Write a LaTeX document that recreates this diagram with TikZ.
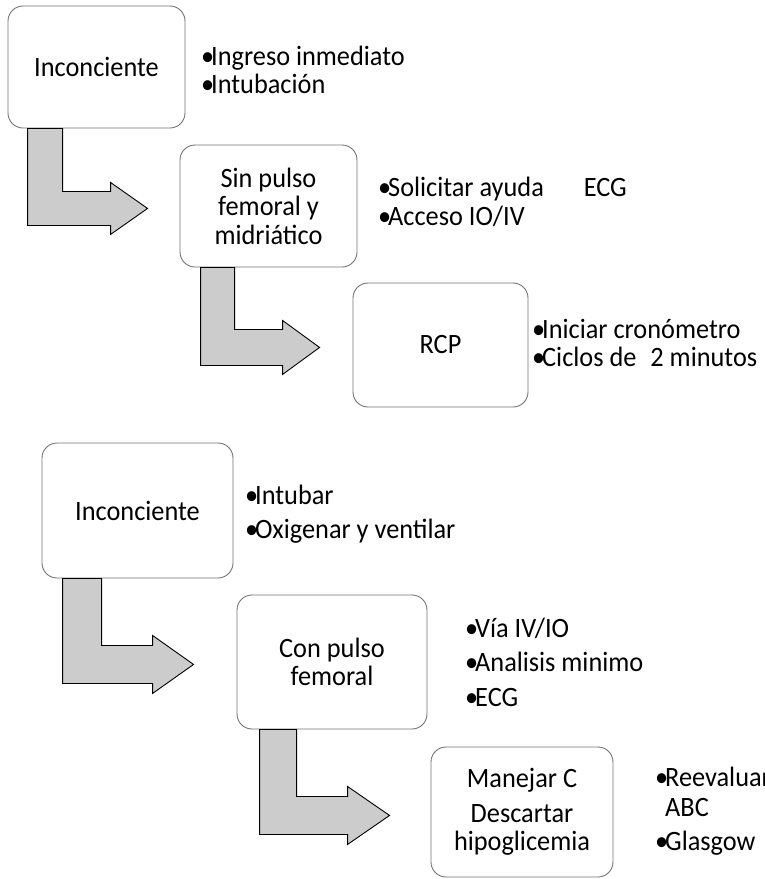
\documentclass[tikz,border=0pt]{standalone}
\usepackage{fontspec}
\setmainfont{Carlito}[FakeStretch=0.94]
\newcommand\dotitem{\makebox[10pt][l]{•}}
\begin{document}
\begin{tikzpicture}[x=1pt,y=-1pt,
  stagebox/.style={draw=black!55, line width=0.9pt, rounded corners=15pt,
    fill=white, align=center, inner sep=0pt,
    font=\fontsize{28}{28.5}\selectfont},
  notes/.style={anchor=west, align=left, inner sep=0pt,
    font=\fontsize{28}{28.5}\selectfont},
  bendarrow/.style={draw=black, line width=0.9pt, fill=black!20,
    line join=miter}]
\useasboundingbox (0,0) rectangle (765,879);

% ---- first sequence: without pulse ----
\node[stagebox, minimum width=177pt, minimum height=122pt] (b1) at (96.5,67) {Inconciente};
\node[stagebox, minimum width=177pt, minimum height=122pt] (b2) at (268.5,206) {Sin pulso\\femoral y\\midriático};
\node[stagebox, minimum width=175pt, minimum height=124pt] (b3) at (440.5,345) {RCP};

\node[notes] (n1) at (201,70) {\dotitem Ingreso inmediato\\\dotitem Intubación};
\node[notes] (n2) at (378,202) {\dotitem Solicitar ayuda\hspace{40pt}ECG\\\dotitem Acceso IO/IV};
\node[notes] (n3) at (532,343) {\dotitem Iniciar cronómetro\\\dotitem Ciclos de\hspace{14pt}2 minutos};

\draw[bendarrow] ([xshift=20pt]b1.south west) -- ++(35,0) -- ++(0,63)
  -- ++(48,0) -- ++(0,-9) -- ++(37,26) -- ++(-37,26) -- ++(0,-9)
  -- ++(-83,0) -- cycle;
\draw[bendarrow] ([xshift=21pt]b2.south west) -- ++(34,0) -- ++(0,62)
  -- ++(48,0) -- ++(0,-9) -- ++(37,27) -- ++(-37,27) -- ++(0,-9)
  -- ++(-82,0) -- cycle;

% ---- second sequence: with pulse ----
\node[stagebox, minimum width=191pt, minimum height=135pt] (b4) at (137.5,510.5) {Inconciente};
\node[stagebox, minimum width=190pt, minimum height=134pt] (b5) at (332,662) {Con pulso\\femoral};
\node[stagebox, minimum width=182pt, minimum height=130pt] (b6) at (522,812) {Manejar C\\[6pt]Descartar\\hipoglicemia};

\node[notes] (n4) at (245,514) {\dotitem Intubar\\[6pt]\dotitem Oxigenar y ventilar};
\node[notes] (n5) at (465,662) {\dotitem Vía IV/IO\\[6pt]\dotitem Analisis minimo\\[6pt]\dotitem ECG};
\node[notes, font=\fontsize{28}{30.5}\selectfont] (n6) at (655,811) {\dotitem Reevaluar\\\hspace*{10pt}ABC\\[3pt]\dotitem Glasgow};

\draw[bendarrow] ([xshift=21pt]b4.south west) -- ++(39,0) -- ++(0,67)
  -- ++(51,0) -- ++(0,-10) -- ++(41,29) -- ++(-41,29) -- ++(0,-10)
  -- ++(-90,0) -- cycle;
\draw[bendarrow] ([xshift=23pt]b5.south west) -- ++(37,0) -- ++(0,67)
  -- ++(51,0) -- ++(0,-10) -- ++(42,29) -- ++(-42,29) -- ++(0,-10)
  -- ++(-88,0) -- cycle;
\end{tikzpicture}
\end{document}
